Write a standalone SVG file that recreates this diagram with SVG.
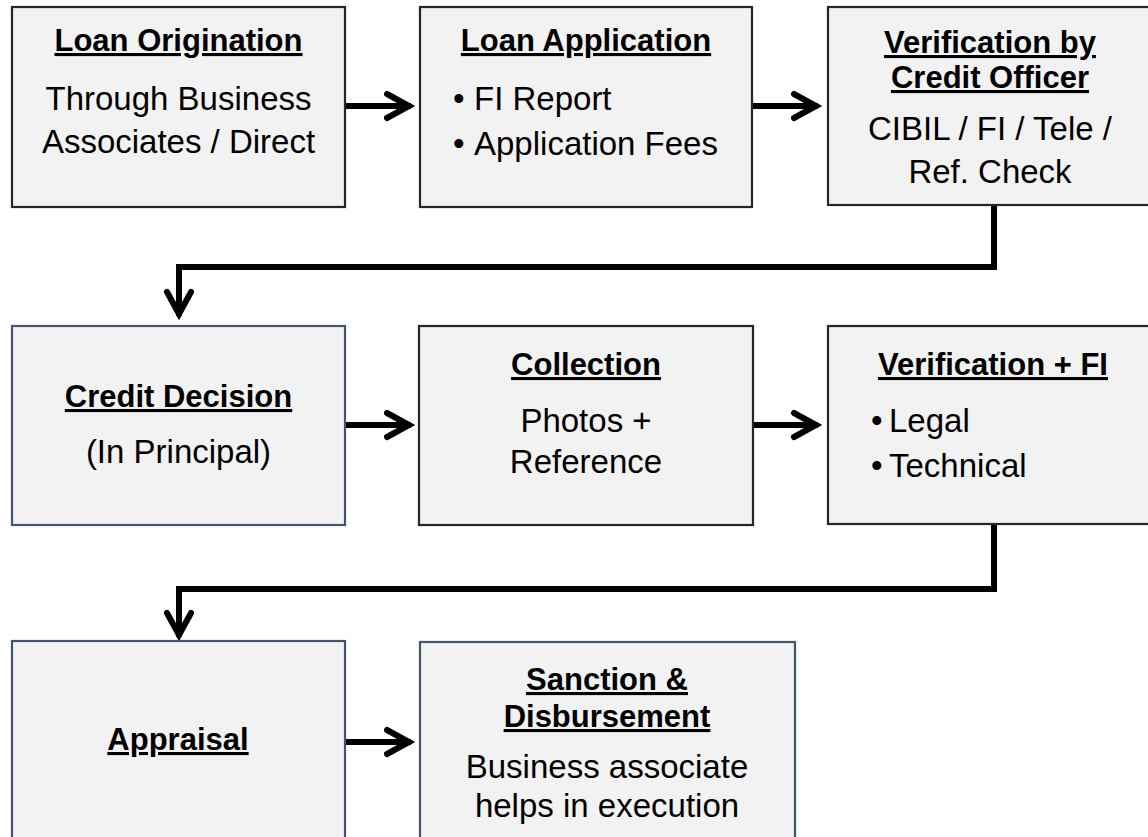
<svg xmlns="http://www.w3.org/2000/svg" width="1148" height="837" viewBox="0 0 1148 837">
<style>
.box{fill:#F2F2F2;stroke-width:2.2}
.dk{stroke:#262626}
.bl{stroke:#44546A}
text{font-family:"Liberation Sans",Arial,sans-serif;fill:#000}
.t{font-size:31px;font-weight:bold;text-decoration:underline;text-anchor:middle}
.b{font-size:33px;text-anchor:middle}
.l{font-size:33px}
.c{fill:none;stroke:#000;stroke-width:6;stroke-linejoin:miter}
</style>
<defs>
<marker id="ah" markerUnits="userSpaceOnUse" markerWidth="40" markerHeight="40" refX="0" refY="0" orient="auto" overflow="visible">
<path d="M-24,-12 L-2,0 L-24,12" fill="none" stroke="#000" stroke-width="6" stroke-linecap="round" stroke-linejoin="miter"/>
</marker>
</defs>
<g id="connectors">
<path class="c" d="M345,106 H411" marker-end="url(#ah)"/>
<path class="c" d="M752,106 H818" marker-end="url(#ah)"/>
<path class="c" d="M994,205 V267 H179 V316" marker-end="url(#ah)"/>
<path class="c" d="M345,425 H411" marker-end="url(#ah)"/>
<path class="c" d="M753,425 H818" marker-end="url(#ah)"/>
<path class="c" d="M994,524 V589 H179 V637" marker-end="url(#ah)"/>
<path class="c" d="M345,742 H411" marker-end="url(#ah)"/>
</g>
<g id="loan-origination">
<rect class="box dk" x="12" y="7" width="333" height="200"/>
<text class="t" x="178.5" y="51">Loan Origination</text>
<text class="b" x="178.5" y="110">Through Business</text>
<text class="b" x="178.5" y="153">Associates / Direct</text>
</g>
<g id="loan-application">
<rect class="box dk" x="420" y="7" width="332" height="200"/>
<text class="t" x="586" y="51">Loan Application</text>
<text class="l" y="110"><tspan x="453">•</tspan><tspan x="474">FI Report</tspan></text>
<text class="l" y="155"><tspan x="453">•</tspan><tspan x="474">Application Fees</tspan></text>
</g>
<g id="verification-credit-officer">
<rect class="box dk" x="828" y="7" width="324" height="198"/>
<text class="t" x="990" y="53">Verification by</text>
<text class="t" x="990" y="88">Credit Officer</text>
<text class="b" x="990" y="140">CIBIL / FI / Tele /</text>
<text class="b" x="990" y="183">Ref. Check</text>
</g>
<g id="credit-decision">
<rect class="box bl" x="12" y="326" width="333" height="199"/>
<text class="t" x="178.5" y="407">Credit Decision</text>
<text class="b" x="178.5" y="463">(In Principal)</text>
</g>
<g id="collection">
<rect class="box dk" x="419" y="326" width="334" height="199"/>
<text class="t" x="586" y="375">Collection</text>
<text class="b" x="586" y="432">Photos +</text>
<text class="b" x="586" y="473">Reference</text>
</g>
<g id="verification-fi">
<rect class="box dk" x="828" y="326" width="324" height="198"/>
<text class="t" x="993" y="375">Verification + FI</text>
<text class="l" y="432"><tspan x="871">•</tspan><tspan x="889">Legal</tspan></text>
<text class="l" y="477"><tspan x="871">•</tspan><tspan x="889">Technical</tspan></text>
</g>
<g id="appraisal">
<rect class="box bl" x="12" y="641" width="333" height="220"/>
<text class="t" x="178" y="750">Appraisal</text>
</g>
<g id="sanction-disbursement">
<rect class="box bl" x="420" y="642" width="375" height="220"/>
<text class="t" x="607" y="690">Sanction &amp;</text>
<text class="t" x="607" y="727">Disbursement</text>
<text class="b" x="607" y="778">Business associate</text>
<text class="b" x="607" y="817">helps in execution</text>
</g>
</svg>
